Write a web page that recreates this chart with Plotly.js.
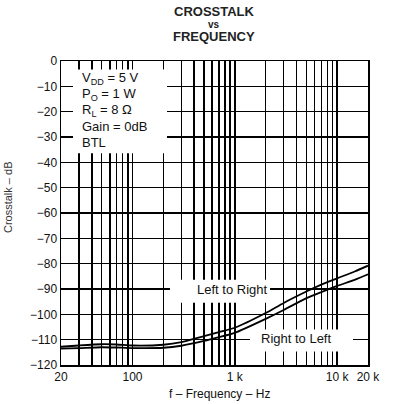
<!DOCTYPE html>
<html>
<head>
<meta charset="utf-8">
<script src="https://cdn.plot.ly/plotly-3.0.1.min.js"></script>
<style>html,body{margin:0;padding:0;background:#fff;}#chart{width:393px;height:404px;}</style>
</head>
<body>
<div id="chart"></div>
<script>
// ---- data ----
const freqHz = [20, 30, 50, 70, 100, 200, 300, 500, 700, 1000, 2000, 3000, 5000, 7000, 10000, 15000, 20000];
const leftToRightDb = [-112.8, -112.3, -111.8, -111.9, -112.3, -112.0, -111.0, -108.6, -107.0, -105.3, -99.5, -95.5, -91.0, -88.3, -85.8, -83.0, -80.8];
const rightToLeftDb = [-113.5, -113.3, -113.0, -113.1, -113.3, -113.2, -112.4, -110.5, -109.0, -107.3, -101.8, -98.3, -93.6, -91.2, -88.8, -86.3, -84.2];
const xLabelVals = [20, 100, 1000, 10000, 20000];
const xLabelText = ['20', '100', '1 k', '10 k', '20 k'];
const xMinorGridVals = [30,40,50,60,70,80,90,200,300,400,500,600,700,800,900,2000,3000,4000,5000,6000,7000,8000,9000];
const yTickVals = [0,-10,-20,-30,-40,-50,-60,-70,-80,-90,-100,-110,-120];
const titleLines = ['CROSSTALK', 'vs', 'FREQUENCY'];
const conditionLines = ['V<sub>DD</sub> = 5 V', 'P<sub>O</sub> = 1 W', 'R<sub>L</sub> = 8 Ω', 'Gain = 0dB', 'BTL'];
const seriesLabels = ['Left to Right', 'Right to Left'];

// ---- layout helpers (pixel -> paper) ----
const L = 61, R = 368, T = 60.5, B = 365.5;
const px = x => (x - L) / (R - L);
const py = y => (B - y) / (B - T);
const FONT = 'Liberation Sans, Arial, sans-serif';

const traces = [
  {x: freqHz, y: leftToRightDb, type: 'scatter', mode: 'lines', line: {color: '#000', width: 1.8, shape: 'spline', smoothing: 0.6}, name: seriesLabels[0], hoverinfo: 'skip'},
  {x: freqHz, y: rightToLeftDb, type: 'scatter', mode: 'lines', line: {color: '#000', width: 1.8, shape: 'spline', smoothing: 0.6}, name: seriesLabels[1], hoverinfo: 'skip'}
];

const whiteRect = (x0, y0, x1, y1) => ({type: 'rect', xref: 'paper', yref: 'paper', x0: px(x0), x1: px(x1), y0: py(y1), y1: py(y0), fillcolor: '#fff', line: {width: 0}, layer: 'above'});

const annotations = [];
const titleY = [11, 24, 36];
const titleSize = [13, 10, 13];
titleLines.forEach((t, i) => annotations.push({text: '<b>' + t + '</b>', xref: 'paper', yref: 'paper', x: px(214), y: py(titleY[i]), xanchor: 'center', yanchor: 'middle', showarrow: false, font: {family: FONT, size: titleSize[i], color: '#222'}}));
const condY = [78, 94, 110, 126, 142];
conditionLines.forEach((t, i) => annotations.push({text: t, xref: 'paper', yref: 'paper', x: px(80), y: py(condY[i]), xanchor: 'left', yanchor: 'middle', showarrow: false, font: {family: FONT, size: 13, color: '#111'}}));
annotations.push({text: seriesLabels[0], xref: 'paper', yref: 'paper', x: px(232), y: py(290), xanchor: 'center', yanchor: 'middle', showarrow: false, font: {family: FONT, size: 13, color: '#111'}});
annotations.push({text: seriesLabels[1], xref: 'paper', yref: 'paper', x: px(296), y: py(339), xanchor: 'center', yanchor: 'middle', showarrow: false, font: {family: FONT, size: 13, color: '#111'}});
annotations.push({text: 'Crosstalk – dB', xref: 'paper', yref: 'paper', x: px(8), y: py(197), xanchor: 'center', yanchor: 'middle', textangle: -90, showarrow: false, font: {family: FONT, size: 11, color: '#333'}});
annotations.push({text: 'f – Frequency – Hz', xref: 'paper', yref: 'paper', x: px(219), y: py(395), xanchor: 'center', yanchor: 'middle', showarrow: false, font: {family: FONT, size: 12, color: '#111'}});

const layout = {
  width: 393, height: 404,
  margin: {l: L, r: 393 - R, t: T, b: 404 - B, pad: 0},
  paper_bgcolor: '#fff', plot_bgcolor: '#fff',
  showlegend: false,
  xaxis: {
    type: 'log', range: [Math.log10(20), Math.log10(20000)],
    tickmode: 'array', tickvals: xLabelVals, ticktext: xLabelText, tickangle: 0,
    showgrid: true, gridcolor: '#000', gridwidth: 1.5,
    minor: {tickmode: 'array', tickvals: xMinorGridVals, showgrid: true, gridcolor: '#000', gridwidth: 1.5, ticks: ''},
    showline: true, linecolor: '#000', linewidth: 1.5, mirror: true,
    ticks: '', zeroline: false,
    tickfont: {family: FONT, size: 12, color: '#111'}
  },
  yaxis: {
    range: [-120, 0],
    tickmode: 'array', tickvals: yTickVals,
    showgrid: true, gridcolor: '#000', gridwidth: 1.5,
    showline: true, linecolor: '#000', linewidth: 1.5, mirror: true,
    ticks: '', zeroline: false,
    tickfont: {family: FONT, size: 12, color: '#111'}
  },
  shapes: [
    whiteRect(73, 69, 167, 153),
    whiteRect(170, 280, 270, 303),
    whiteRect(250, 330, 353, 352)
  ],
  annotations: annotations
};

Plotly.newPlot('chart', traces, layout, {staticPlot: true, displayModeBar: false});
</script>
</body>
</html>
